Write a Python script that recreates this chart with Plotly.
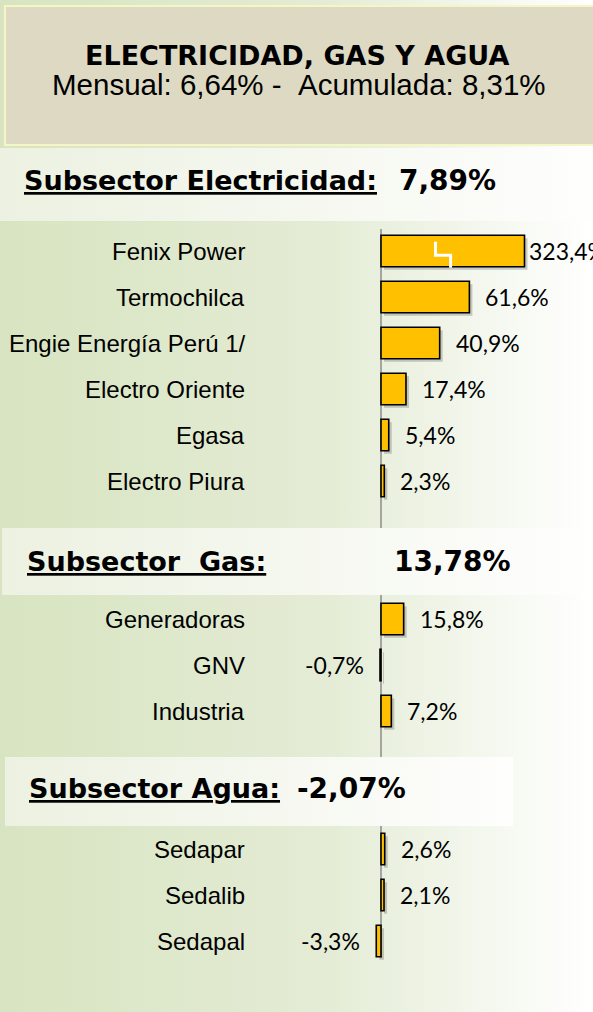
import base64
import plotly.graph_objects as go

W, H = 593, 1012

# ---------------- data ----------------
header_title = "ELECTRICIDAD, GAS Y AGUA"
mensual_pct = 6.64
acumulada_pct = 8.31

subsector_names = ["Subsector Electricidad:", "Subsector\u00a0\u00a0Gas:", "Subsector Agua:"]
subsector_values = [7.89, 13.78, -2.07]

elec_labels = ["Fenix Power", "Termochilca", "Engie Energía Perú 1/",
               "Electro Oriente", "Egasa", "Electro Piura"]
elec_values = [323.4, 61.6, 40.9, 17.4, 5.4, 2.3]

gas_labels = ["Generadoras", "GNV", "Industria"]
gas_values = [15.8, -0.7, 7.2]

agua_labels = ["Sedapar", "Sedalib", "Sedapal"]
agua_values = [2.6, 2.1, -3.3]

# ---------------- style / layout constants ----------------
AXIS_BREAK = 100.0          # bars longer than this are drawn cut with a break mark
ZERO_PX = 381               # pixel column of the value axis
PX_PER_UNIT = 1.435
FIRST_ROW_PX = 251
ROW_PX = 46.0
GROUP_GAP = 3               # slots from last row of a group to first row of next
BAR_W = 0.685
BAR_COLOR = "#FFC000"

F_NARROW = "Liberation Sans Narrow, Arial Narrow, sans-serif"
F_BOLD = "DejaVu Sans, Tahoma, sans-serif"
F_VAL = "Lato, Calibri, sans-serif"


def fmt(v, d=1):
    return f"{v:.{d}f}".replace(".", ",") + "%"


def px_y(p):
    return 1 - p / H


def px_x(p):
    return p / W


def grad_uri(w, h, stops):
    st = "".join(f'<stop offset="{o}" stop-color="{c}"/>' for o, c in stops)
    svg = (f'<svg xmlns="http://www.w3.org/2000/svg" width="{w}" height="{h}" '
           f'preserveAspectRatio="none" viewBox="0 0 {w} {h}">'
           f'<defs><linearGradient id="g" x1="0" y1="0" x2="1" y2="0">{st}</linearGradient></defs>'
           f'<rect x="0" y="0" width="{w}" height="{h}" fill="url(#g)"/></svg>')
    return "data:image/svg+xml;base64," + base64.b64encode(svg.encode()).decode()


# ---------------- build rows ----------------
groups = [(elec_labels, elec_values), (gas_labels, gas_values), (agua_labels, agua_values)]
labels, values, slots = [], [], []
slot = 0
for gi, (lab, val) in enumerate(groups):
    if gi > 0:
        slot += GROUP_GAP - 1
    for l, v in zip(lab, val):
        labels.append(l)
        values.append(v)
        slots.append(slot)
        slot += 1

shown = [max(min(v, AXIS_BREAK), -AXIS_BREAK) for v in values]

x_range = [-ZERO_PX / PX_PER_UNIT, (W - ZERO_PX) / PX_PER_UNIT]
y_top = -FIRST_ROW_PX / ROW_PX
y_bot = y_top + H / ROW_PX

fig = go.Figure()

# shadow
dx = 3 / PX_PER_UNIT
dy = 3 / ROW_PX
fig.add_trace(go.Bar(
    x=shown, y=slots, orientation="h", base=dx, width=BAR_W,
    offset=-BAR_W / 2 + dy,
    marker=dict(color="rgba(60,60,60,0.25)", line=dict(width=0)),
    hoverinfo="skip"))

# bars
fig.add_trace(go.Bar(
    x=shown, y=slots, orientation="h", width=BAR_W,
    marker=dict(color=BAR_COLOR, line=dict(color="#000000", width=1.6)),
    hoverinfo="skip"))

# break marks on cut bars
for s, v in zip(slots, values):
    if abs(v) > AXIS_BREAK:
        bx0 = AXIS_BREAK * 0.38
        bx1 = AXIS_BREAK * 0.485
        fig.add_trace(go.Scatter(
            x=[bx0, bx0, bx1, bx1],
            y=[s - 0.2, s + 0.09, s + 0.09, s + BAR_W / 2 + 0.02],
            mode="lines", line=dict(color="white", width=3),
            hoverinfo="skip"))

annotations = []
# category labels
for l, s in zip(labels, slots):
    annotations.append(dict(
        x=px_x(247), xref="paper", y=s, yref="y", text=l, showarrow=False,
        xanchor="right", yanchor="middle",
        font=dict(family=F_NARROW, size=24, color="#000000")))

# value labels
for v, sv, s in zip(values, shown, slots):
    cut = abs(v) > AXIS_BREAK
    if v >= 0:
        annotations.append(dict(
            x=sv, xref="x", y=s, yref="y", text=fmt(v), showarrow=False,
            xanchor="left", yanchor="middle", xshift=2 if cut else 14,
            font=dict(family=F_VAL, size=23, color="#000000")))
    else:
        annotations.append(dict(
            x=sv, xref="x", y=s, yref="y", text=fmt(v), showarrow=False,
            xanchor="right", yanchor="middle", xshift=-14,
            font=dict(family=F_VAL, size=23, color="#000000")))

# header text
annotations.append(dict(
    x=0.5, xref="paper", y=px_y(55.5), yref="paper", text=f"<b>{header_title}</b>",
    showarrow=False, xanchor="center", yanchor="middle",
    font=dict(family=F_BOLD, size=27, color="#000000")))
annotations.append(dict(
    x=px_x(299), xref="paper", y=px_y(85), yref="paper",
    text=f"Mensual: {fmt(mensual_pct, 2)} -\u00a0\u00a0Acumulada: {fmt(acumulada_pct, 2)}",
    showarrow=False, xanchor="center", yanchor="middle",
    font=dict(family=F_NARROW, size=29.5, color="#000000")))

# subsector boxes (pixel geometry) and texts
box_geom = [  # x0, x1, y0, y1, label_x, value_x, text_y
    (0, 593, 148, 221, 22, 397, 181),
    (2, 580, 528, 595, 25, 392, 561),
    (5, 513, 757, 826, 27, 295, 788),
]
images = [dict(
    source=grad_uri(W, H, [(0, "#D8E4C1"), (0.55, "#E4ECD5"), (1, "#FFFFFF")]),
    xref="paper", yref="paper", x=0, y=1, sizex=1, sizey=1,
    xanchor="left", yanchor="top", sizing="stretch", layer="below")]

for (x0, x1, y0, y1, lx, vx, ty), name, val in zip(box_geom, subsector_names, subsector_values):
    images.append(dict(
        source=grad_uri(x1 - x0, y1 - y0, [(0, "#ECF1E1"), (1, "#FEFEFD")]),
        xref="paper", yref="paper", x=px_x(x0), y=px_y(y0),
        sizex=(x1 - x0) / W, sizey=(y1 - y0) / H,
        xanchor="left", yanchor="top", sizing="stretch", layer="above"))
    annotations.append(dict(
        x=px_x(lx), xref="paper", y=px_y(ty), yref="paper", text=f"<b>{name}</b>",
        showarrow=False, xanchor="left", yanchor="middle",
        font=dict(family=F_BOLD, size=27, color="#000000", lineposition="under")))
    annotations.append(dict(
        x=px_x(vx), xref="paper", y=px_y(ty), yref="paper", text=f"<b>{fmt(val, 2)}</b>",
        showarrow=False, xanchor="left", yanchor="middle",
        font=dict(family=F_BOLD, size=28, color="#000000")))

shapes = [
    # header box
    dict(type="rect", xref="paper", yref="paper", x0=px_x(5), x1=px_x(W + 5),
         y0=px_y(6), y1=px_y(145), fillcolor="#DDD9C3",
         line=dict(color="#F4F6C6", width=2), layer="below"),
    # value axis
    dict(type="line", xref="x", yref="y", x0=0, x1=0,
         y0=slots[0] - 0.48, y1=slots[-1] + 0.37,
         line=dict(color="#8C8C8C", width=1.5), layer="below"),
]

fig.update_layout(
    width=W, height=H, margin=dict(l=0, r=0, t=0, b=0),
    paper_bgcolor="#FFFFFF", plot_bgcolor="rgba(0,0,0,0)",
    barmode="overlay", showlegend=False, hovermode=False,
    xaxis=dict(range=x_range, visible=False, fixedrange=True),
    yaxis=dict(range=[y_bot, y_top], visible=False, fixedrange=True),
    annotations=annotations, shapes=shapes, images=images,
)

fig.write_html("out.html", config={"displayModeBar": False})

# remove the browser's default page margin so the figure sits at (0, 0)
with open("out.html", "r", encoding="utf-8") as fh:
    html = fh.read()
if "<body>" in html:
    html = html.replace("<body>", '<body style="margin:0;padding:0;overflow:hidden">', 1)
else:
    html = html.replace("</head>", "<style>body{margin:0;padding:0;overflow:hidden}</style></head>", 1)
with open("out.html", "w", encoding="utf-8") as fh:
    fh.write(html)
